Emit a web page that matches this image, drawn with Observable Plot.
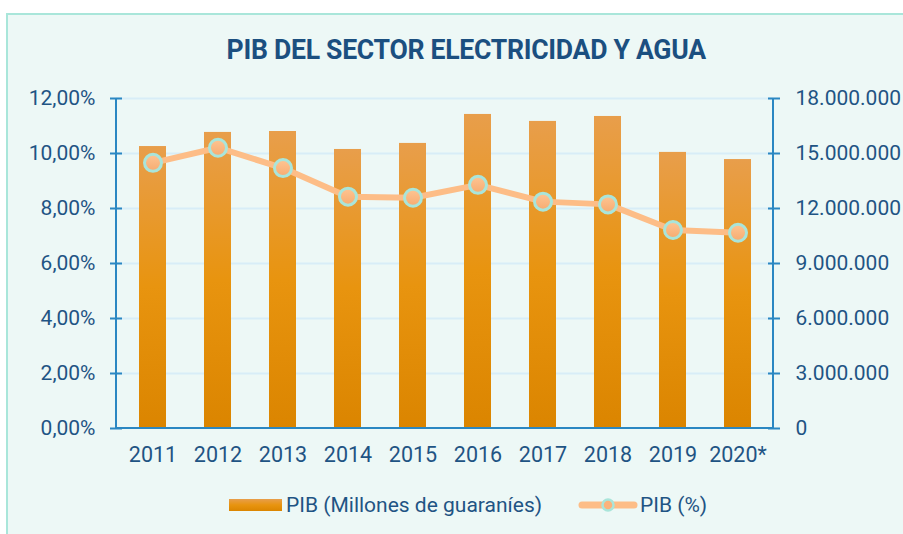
<!DOCTYPE html>
<html><head><meta charset="utf-8">
<script src="https://cdn.jsdelivr.net/npm/d3@7"></script>
<script src="https://cdn.jsdelivr.net/npm/@observablehq/plot@0.6"></script>
<style>
html,body{margin:0;padding:0;background:#fff;width:903px;height:534px;overflow:hidden;font-family:Roboto,sans-serif}
#panel{position:absolute;left:6px;top:13px;width:940px;height:580px;border:2px solid #a9e6da;background:#edf8f6;box-sizing:border-box}
#title{position:absolute;left:0;top:33px;width:932px;text-align:center;color:#1b4f80}
#title span{display:inline-block;font:bold 28px Roboto;transform:scaleX(0.95);letter-spacing:-0.3px}
#chart{position:absolute;left:0;top:80px}
#legend{position:absolute;left:229px;top:494px;height:22px;display:flex;align-items:center;font:21px Roboto;color:#1f5484;white-space:nowrap}
.sw{width:53px;height:12px;background:linear-gradient(#e89e4b,#e8940f 50%,#db8500);margin-right:4px}
</style></head>
<body>
<div id="panel"></div>
<div id="title"><span>PIB DEL SECTOR ELECTRICIDAD Y AGUA</span></div>
<div id="chart"></div>
<div id="legend">
  <div class="sw"></div><span>PIB (Millones de guaraníes)</span>
  <svg width="60" height="18" style="margin-left:36px;margin-right:2px"><line x1="4" x2="56" y1="9" y2="9" stroke="#fdbd87" stroke-width="7" stroke-linecap="round"/><circle cx="30" cy="9" r="5.5" fill="#fbb37c" stroke="#a9e5da" stroke-width="2.5"/></svg><span>PIB (%)</span>
</div>
<script>
const years = ["2011","2012","2013","2014","2015","2016","2017","2018","2019","2020*"];
const pibMillones = [15380000, 16150000, 16200000, 15220000, 15550000, 17130000, 16750000, 17020000, 15060000, 14670000];
const pibPct = [9.66, 10.21, 9.47, 8.43, 8.39, 8.86, 8.25, 8.15, 7.22, 7.12];
const leftTicks = [0, 2, 4, 6, 8, 10, 12];
const rightTicks = [0, 3000000, 6000000, 9000000, 12000000, 15000000, 18000000];
const RIGHT_MAX = 18000000, LEFT_MAX = 12;
const ratio = RIGHT_MAX / LEFT_MAX;

const data = years.map((year, i) => ({year, pib: pibMillones[i], pct: pibPct[i]}));
const loc = d3.formatLocale({decimal: ",", thousands: ".", grouping: [3], currency: ["", ""]});
const fmtNum = loc.format(",.0f");
const fmtPct = d => d.toFixed(2).replace(".", ",") + "%";

const axisColor = "#2b87c2";
const textColor = "#1f5484";

function defs() {
  const d = d3.create("svg:defs");
  const lg = d.append("linearGradient").attr("id", "barGrad").attr("x1", 0).attr("y1", 0).attr("x2", 0).attr("y2", 1);
  lg.append("stop").attr("offset", "0%").attr("stop-color", "#e89e4b");
  lg.append("stop").attr("offset", "50%").attr("stop-color", "#e8940f");
  lg.append("stop").attr("offset", "100%").attr("stop-color", "#db8500");
  const dg = d.append("linearGradient").attr("id", "dotGrad").attr("x1", 0).attr("y1", 0).attr("x2", 0).attr("y2", 1);
  dg.append("stop").attr("offset", "0%").attr("stop-color", "#fec593");
  dg.append("stop").attr("offset", "100%").attr("stop-color", "#f7ab70");
  return d.node();
}

function axisLines(index, scales, values, dims) {
  const y = scales.y;
  const x0 = dims.marginLeft, x1 = dims.width - dims.marginRight;
  const g = d3.create("svg:g").attr("stroke", axisColor).attr("stroke-width", 2);
  g.append("line").attr("x1", x0).attr("x2", x0).attr("y1", y(LEFT_MAX)).attr("y2", y(0));
  g.append("line").attr("x1", x1).attr("x2", x1).attr("y1", y(LEFT_MAX)).attr("y2", y(0));
  g.append("line").attr("x1", x0).attr("x2", x1).attr("y1", y(0)).attr("y2", y(0));
  return g.node();
}

const chart = Plot.plot({
  width: 903,
  height: 388,
  marginTop: 18,
  marginBottom: 40,
  marginLeft: 116,
  marginRight: 130,
  style: {fontSize: "21px", fontFamily: "Roboto, sans-serif", color: textColor, background: "transparent", overflow: "visible"},
  x: {type: "band", domain: years, paddingInner: 0.59, paddingOuter: 0.295, label: null},
  y: {domain: [0, LEFT_MAX], label: null},
  marks: [
    defs,
    Plot.ruleY(leftTicks.slice(1), {stroke: "#d8edf7", strokeWidth: 2}),
    Plot.barY(data, {x: "year", y: d => d.pib / ratio, fill: "url(#barGrad)"}),
    axisLines,
    Plot.axisY(leftTicks, {anchor: "left", tickSize: 12, dx: 6, tickFormat: () => "", stroke: axisColor, strokeWidth: 2, label: null}),
    Plot.axisY(rightTicks.map(v => v / ratio), {anchor: "right", tickSize: 12, dx: -6, tickFormat: () => "", stroke: axisColor, strokeWidth: 2, label: null}),
    Plot.axisY(leftTicks, {anchor: "left", tickSize: 0, tickPadding: 21, tickFormat: fmtPct, fill: textColor, label: null}),
    Plot.axisY(rightTicks.map(v => v / ratio), {anchor: "right", tickSize: 0, tickPadding: 22, tickFormat: v => fmtNum(v * ratio), fill: textColor, label: null}),
    Plot.axisX({tickSize: 0, tickPadding: 18, fill: textColor, fontSize: 21.5, label: null}),
    Plot.line(data, {x: "year", y: "pct", stroke: "#fdbd87", strokeWidth: 6}),
    Plot.dot(data, {x: "year", y: "pct", r: 8.5, fill: "url(#dotGrad)", stroke: "#a9e5da", strokeWidth: 3})
  ]
});
document.getElementById("chart").appendChild(chart);
</script>
</body></html>
